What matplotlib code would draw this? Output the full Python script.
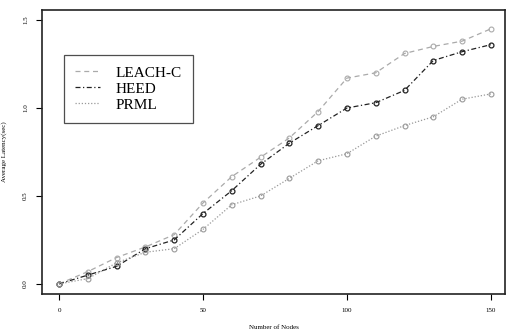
import matplotlib
matplotlib.use("Agg")
import matplotlib.pyplot as plt

nodes = [0, 10, 20, 30, 40, 50, 60, 70, 80, 90, 100, 110, 120, 130, 140, 150]
leach_c = [0.0, 0.07, 0.15, 0.21, 0.28, 0.46, 0.61, 0.72, 0.83, 0.98, 1.17, 1.20, 1.31, 1.35, 1.38, 1.45]
heed = [0.0, 0.05, 0.10, 0.20, 0.25, 0.40, 0.53, 0.68, 0.80, 0.90, 1.00, 1.03, 1.10, 1.27, 1.32, 1.36]
prml = [0.0, 0.03, 0.12, 0.18, 0.20, 0.31, 0.45, 0.50, 0.60, 0.70, 0.74, 0.84, 0.90, 0.95, 1.05, 1.08]

plt.rcParams['font.family'] = ['Liberation Serif', 'DejaVu Serif']

fig = plt.figure(figsize=(5.07, 3.34), dpi=100)
ax = fig.add_axes([0.083, 0.12, 0.913, 0.85])

ax.plot(nodes, leach_c, color='#aaaaaa', ls=(0, (4, 3)), lw=0.9,
        marker='o', ms=3.5, mfc='none', mew=0.8, label='LEACH-C')
ax.plot(nodes, heed, color='#222222', ls=(0, (4, 2, 1, 2)), lw=0.9,
        marker='o', ms=3.5, mfc='none', mew=0.9, label='HEED')
ax.plot(nodes, prml, color='#999999', ls=(0, (1, 1.5)), lw=0.9,
        marker='o', ms=3.5, mfc='none', mew=0.8, label='PRML')

ax.set_xlim(-5.9, 154.9)
ax.set_ylim(-0.057, 1.557)
ax.set_xticks([0, 50, 100, 150])
ax.set_yticks([0.0, 0.5, 1.0, 1.5])
ax.set_yticklabels(['0.0', '0.5', '1.0', '1.5'], rotation=90, va='center')
ax.tick_params(direction='out', length=4, width=0.8, labelsize=5, pad=6)
for s in ax.spines.values():
    s.set_linewidth(1.2)
    s.set_color('#222222')

ax.set_xlabel('Number of Nodes', fontsize=5, labelpad=9)
ax.set_ylabel('Average Latency(sec)', fontsize=5, labelpad=12)

leg = ax.legend(loc='upper left', bbox_to_anchor=(0.0475, 0.8415), fontsize=11,
                frameon=True, fancybox=False, edgecolor='#222222',
                handlelength=1.65, borderpad=0.72, labelspacing=0.15,
                handletextpad=1.0, borderaxespad=0)
leg.get_frame().set_linewidth(0.9)
for h in leg.legend_handles:
    h.set_marker('')

fig.savefig('out.png', dpi=100)
